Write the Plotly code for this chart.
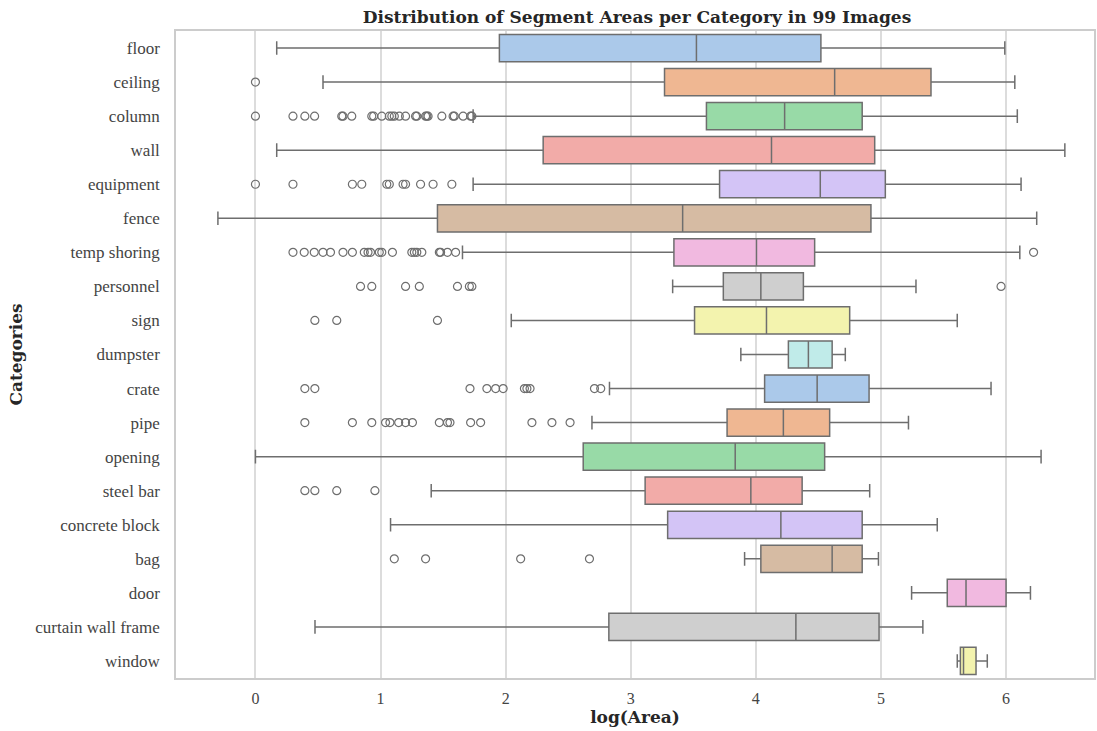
import colorsys
import plotly.graph_objects as go

# Per-category summary statistics of log(segment area)
categories = [
    "floor", "ceiling", "column", "wall", "equipment", "fence", "temp shoring",
    "personnel", "sign", "dumpster", "crate", "pipe", "opening", "steel bar",
    "concrete block", "bag", "door", "curtain wall frame", "window",
]
lower_whisker = [0.17, 0.54, 1.74, 0.17, 1.74, -0.30, 1.655, 3.335, 2.045, 3.88,
                 2.83, 2.69, 0.00, 1.405, 1.08, 3.91, 5.245, 0.476, 5.61]
q1_values = [1.95, 3.27, 3.605, 2.30, 3.71, 1.455, 3.345, 3.74, 3.51, 4.26,
             4.07, 3.77, 2.62, 3.115, 3.295, 4.04, 5.53, 2.825, 5.635]
median_values = [3.525, 4.63, 4.23, 4.125, 4.515, 3.415, 4.005, 4.04, 4.085, 4.42,
                 4.49, 4.22, 3.835, 3.96, 4.20, 4.61, 5.68, 4.32, 5.66]
q3_values = [4.52, 5.40, 4.85, 4.95, 5.035, 4.92, 4.47, 4.38, 4.75, 4.61,
             4.905, 4.59, 4.55, 4.37, 4.85, 4.85, 6.00, 4.985, 5.76]
upper_whisker = [5.99, 6.07, 6.09, 6.47, 6.12, 6.245, 6.11, 5.28, 5.61, 4.715,
                 5.88, 5.22, 6.28, 4.91, 5.45, 4.98, 6.195, 5.335, 5.85]
outliers = [
    [],
    [0.0],
    [0.0, 0.30, 0.395, 0.473, 0.69, 0.70, 0.77, 0.93, 0.945, 1.01, 1.07, 1.09,
     1.11, 1.15, 1.20, 1.28, 1.29, 1.36, 1.37, 1.38, 1.49, 1.58, 1.59, 1.66,
     1.72, 1.73],
    [],
    [0.0, 0.30, 0.775, 0.85, 1.05, 1.07, 1.18, 1.20, 1.32, 1.42, 1.57],
    [],
    [0.30, 0.39, 0.47, 0.54, 0.60, 0.70, 0.775, 0.87, 0.90, 0.92, 0.99, 1.01,
     1.095, 1.25, 1.27, 1.29, 1.33, 1.47, 1.48, 1.535, 1.60, 6.22],
    [0.84, 0.93, 1.20, 1.31, 1.615, 1.71, 1.73, 5.96],
    [0.475, 0.65, 1.455],
    [],
    [0.395, 0.475, 1.715, 1.85, 1.92, 1.98, 2.15, 2.17, 2.195, 2.71, 2.76],
    [0.395, 0.775, 0.93, 1.04, 1.075, 1.145, 1.20, 1.255, 1.47, 1.535, 1.555,
     1.72, 1.80, 2.21, 2.37, 2.515],
    [],
    [0.395, 0.475, 0.65, 0.955],
    [],
    [1.11, 1.36, 2.12, 2.67],
    [],
    [],
    [],
]
x_ticks = [0, 1, 2, 3, 4, 5, 6]

# seaborn "pastel" palette, desaturated the way boxplot fills are
pastel = ["#a1c9f4", "#ffb482", "#8de5a1", "#ff9f9b", "#d0bbff",
          "#debb9b", "#fab0e4", "#cfcfcf", "#fffea3", "#b9f2f0"]


def desaturate(hex_color, prop=0.75):
    r, g, b = (int(hex_color[i:i + 2], 16) / 255 for i in (1, 3, 5))
    h, l, s = colorsys.rgb_to_hls(r, g, b)
    r, g, b = colorsys.hls_to_rgb(h, l, s * prop)
    return "#{:02x}{:02x}{:02x}".format(*(round(c * 255) for c in (r, g, b)))


line_gray = "#6e6e6e"
body_font = "Liberation Serif, Times New Roman, serif"
bold_font = "DejaVu Serif, serif"

fig = go.Figure()
for i, cat in enumerate(categories):
    fig.add_trace(go.Box(
        y=[i],
        q1=[q1_values[i]],
        median=[median_values[i]],
        q3=[q3_values[i]],
        lowerfence=[lower_whisker[i]],
        upperfence=[upper_whisker[i]],
        orientation="h",
        width=0.8,
        whiskerwidth=0.5,
        fillcolor=desaturate(pastel[i % len(pastel)]),
        line=dict(color=line_gray, width=1.5),
        boxpoints=False,
        name=cat,
        showlegend=False,
        hoverinfo="skip",
    ))

# Outlying observations as open circles
out_x, out_y = [], []
for i, pts in enumerate(outliers):
    out_x.extend(pts)
    out_y.extend([i] * len(pts))
fig.add_trace(go.Scatter(
    x=out_x, y=out_y, mode="markers",
    marker=dict(symbol="circle-open", size=8, color=line_gray,
                line=dict(width=1.2, color=line_gray)),
    showlegend=False, hoverinfo="skip",
))

fig.update_layout(
    width=1097, height=731,
    margin=dict(l=176, r=1, t=31, b=53),
    paper_bgcolor="white", plot_bgcolor="white",
    font=dict(family=body_font, color="#333333", size=16),
    title=dict(
        text="<b>Distribution of Segment Areas per Category in 99 Images</b>",
        x=0.5807, xanchor="center", y=0.977, yanchor="middle",
        font=dict(size=17, color="#262626", family=bold_font),
    ),
    showlegend=False,
)
fig.update_xaxes(
    range=[-0.635, 6.703],
    tickvals=x_ticks, ticktext=[str(t) for t in x_ticks],
    showgrid=True, gridcolor="#dcdcdc", gridwidth=1.5,
    zeroline=False,
    showline=True, linecolor="#cccccc", linewidth=1.5, mirror=True,
    ticks="", ticklabelstandoff=5,
    tickfont=dict(size=16, color="#444444"),
    title=dict(text="<b>log(Area)</b>",
               font=dict(size=17, color="#262626", family=bold_font),
               standoff=4),
)
fig.update_yaxes(
    range=[18.5, -0.5],
    tickvals=list(range(len(categories))), ticktext=categories,
    showgrid=False, zeroline=False,
    showline=True, linecolor="#cccccc", linewidth=1.5, mirror=True,
    ticks="", ticklabelstandoff=11,
    tickfont=dict(size=17, color="#444444"),
    title=dict(text="<b>Categories</b>",
               font=dict(size=17, color="#262626", family=bold_font),
               standoff=8),
)

fig.write_html("out.html")
